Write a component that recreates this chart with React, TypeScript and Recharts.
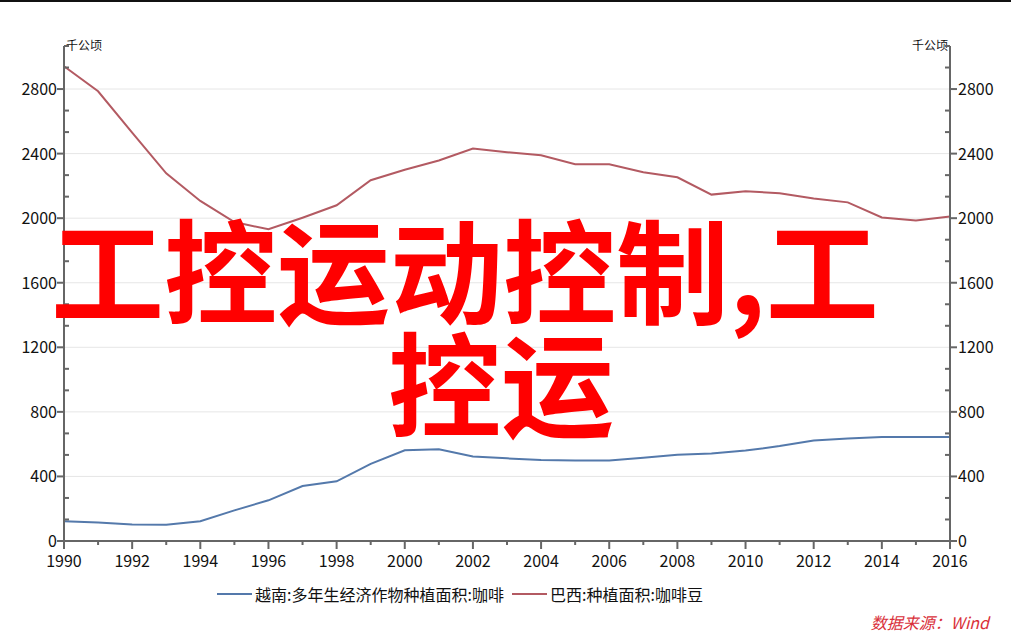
import { LineChart, Line, XAxis, YAxis, CartesianGrid } from "recharts";

const years = [
  1990, 1991, 1992, 1993, 1994, 1995, 1996, 1997, 1998, 1999, 2000, 2001, 2002,
  2003, 2004, 2005, 2006, 2007, 2008, 2009, 2010, 2011, 2012, 2013, 2014, 2015, 2016,
];
const vietnam = [
  122, 114, 102, 101, 122, 190, 252, 341, 370, 478, 562, 568, 524,
  512, 502, 499, 499, 515, 534, 542, 560, 588, 623, 635, 644, 645, 645,
];
const brazil = [
  2941, 2786, 2530, 2278, 2107, 1976, 1931, 2003, 2080, 2235, 2300, 2357, 2432,
  2409, 2390, 2334, 2334, 2284, 2253, 2146, 2167, 2154, 2122, 2098, 2004, 1986, 2010,
];
const yMajorTicks = [0, 400, 800, 1200, 1600, 2000, 2400, 2800];
const xLabelYears = [1990, 1992, 1994, 1996, 1998, 2000, 2002, 2004, 2006, 2008, 2010, 2012, 2014, 2016];
const seriesNames = ["越南:多年生经济作物种植面积:咖啡", "巴西:种植面积:咖啡豆"];
const unitLabel = "千公顷";
const sourceText = "数据来源：Wind";
const overlayLines = ["工控运动控制,工", "控运"];

const data = years.map((y, i) => ({ year: y, vn: vietnam[i], br: brazil[i] }));

// minor ticks every 400/3, axis tops out at 23 minor steps
const yStep = 400 / 3;
const yAllTicks = Array.from({ length: 24 }, (_, i) => i * yStep);
const yMax = 23 * yStep;

const FONT = "'Noto Sans CJK SC', 'Noto Sans', sans-serif";
const AXIS = "#666666";
const BLUE = "#5479ab";
const RED = "#b35a62";
const LABEL = "#111";

const isMajor = (v: number) => yMajorTicks.some((m) => Math.abs(m - v) < 0.5);

const LeftTick = ({ x, y, payload }: any) => {
  const major = isMajor(payload.value);
  return (
    <g>
      {major ? (
        <line x1={x - 7} x2={x} y1={y} y2={y} stroke={AXIS} strokeWidth={2} />
      ) : (
        <line x1={x} x2={x + 5} y1={y} y2={y} stroke={AXIS} strokeWidth={2} />
      )}
      {major && (
        <text x={x - 7} y={y + 6} textAnchor="end" fontSize={16} fill={LABEL} fontFamily={FONT}>
          {Math.round(payload.value)}
        </text>
      )}
    </g>
  );
};

const RightTick = ({ x, y, payload }: any) => {
  const major = isMajor(payload.value);
  return (
    <g>
      {major ? (
        <line x1={x} x2={x + 7} y1={y} y2={y} stroke={AXIS} strokeWidth={2} />
      ) : (
        <line x1={x - 5} x2={x} y1={y} y2={y} stroke={AXIS} strokeWidth={2} />
      )}
      {major && (
        <text x={x + 8} y={y + 6} textAnchor="start" fontSize={16} fill={LABEL} fontFamily={FONT}>
          {Math.round(payload.value)}
        </text>
      )}
    </g>
  );
};

const BottomTick = ({ x, y, payload }: any) => {
  const labeled = xLabelYears.includes(payload.value);
  return (
    <g>
      <line x1={x} x2={x} y1={y} y2={y + (labeled ? 8 : 4)} stroke={AXIS} strokeWidth={2} />
      {labeled && (
        <text x={x} y={y + 26} textAnchor="middle" fontSize={16} fill={LABEL} fontFamily={FONT}>
          {payload.value}
        </text>
      )}
    </g>
  );
};

const UnitLabel = (side: "left" | "right") => (props: any) => {
  const vb = props.viewBox;
  const x = side === "left" ? vb.x + vb.width + 2 : vb.x - 2;
  return (
    <text
      x={x}
      y={vb.y + 4}
      textAnchor={side === "left" ? "start" : "end"}
      fontSize={12}
      fill="#111"
      fontFamily={FONT}
    >
      {unitLabel}
    </text>
  );
};

const overlayStyle = {
  position: "absolute" as const,
  fontFamily: FONT,
  fontWeight: 700,
  fontSize: 113,
  lineHeight: "113px",
  color: "#ff0000",
  whiteSpace: "nowrap" as const,
};

const App = () => {
  return (
    <div style={{ position: "relative", width: 1011, height: 632, background: "#fff" }}>
      <style>{`body{margin:0}`}</style>
      <div style={{ position: "absolute", left: 0, top: 0, width: 1011, height: 2, background: "#111" }} />
      <LineChart
        width={1011}
        height={632}
        data={data}
        margin={{ top: 46, right: 0, left: 0, bottom: 61 }}
      >
        <CartesianGrid
          yAxisId="left"
          vertical={false}
          horizontalValues={yMajorTicks.slice(1)}
          stroke="#e6e6e6"
        />
        <XAxis
          dataKey="year"
          type="number"
          domain={[1990, 2016]}
          ticks={years}
          interval={0}
          tick={<BottomTick />}
          tickSize={0}
          tickMargin={0}
          height={30}
          axisLine={{ stroke: AXIS, strokeWidth: 2 }}
        />
        <YAxis
          yAxisId="left"
          orientation="left"
          width={64}
          domain={[0, yMax]}
          ticks={yAllTicks}
          interval={0}
          tick={<LeftTick />}
          tickSize={0}
          tickMargin={0}
          axisLine={{ stroke: AXIS, strokeWidth: 2 }}
          label={{ content: UnitLabel("left") }}
        />
        <YAxis
          yAxisId="right"
          orientation="right"
          width={61}
          domain={[0, yMax]}
          ticks={yAllTicks}
          interval={0}
          tick={<RightTick />}
          tickSize={0}
          tickMargin={0}
          axisLine={{ stroke: AXIS, strokeWidth: 2 }}
          label={{ content: UnitLabel("right") }}
        />
        <Line
          yAxisId="left"
          type="linear"
          dataKey="vn"
          stroke={BLUE}
          strokeWidth={2}
          dot={false}
          isAnimationActive={false}
        />
        <Line
          yAxisId="right"
          type="linear"
          dataKey="br"
          stroke={RED}
          strokeWidth={2}
          dot={false}
          isAnimationActive={false}
        />
      </LineChart>

      {seriesNames.map((n, i) => (
        <div
          key={n}
          style={{
            position: "absolute",
            top: 582,
            left: i === 0 ? 217 : 512,
            display: "flex",
            alignItems: "center",
            fontFamily: FONT,
            fontSize: 16,
            color: "#111",
            whiteSpace: "nowrap",
          }}
        >
          <span style={{ display: "inline-block", width: 35, height: 2, background: i === 0 ? BLUE : RED, marginRight: 3 }} />
          <span>{n}</span>
        </div>
      ))}

      <div
        style={{
          position: "absolute",
          top: 610,
          right: 20,
          paddingRight: 2,
          fontFamily: FONT,
          fontSize: 16,
          fontStyle: "italic",
          color: "#d9303a",
          whiteSpace: "nowrap",
        }}
      >
        {sourceText}
      </div>

      <div style={{ ...overlayStyle, top: 210, left: 51 }}>{overlayLines[0]}</div>
      <div style={{ ...overlayStyle, top: 323, left: 388 }}>{overlayLines[1]}</div>
    </div>
  );
};

export default App;
